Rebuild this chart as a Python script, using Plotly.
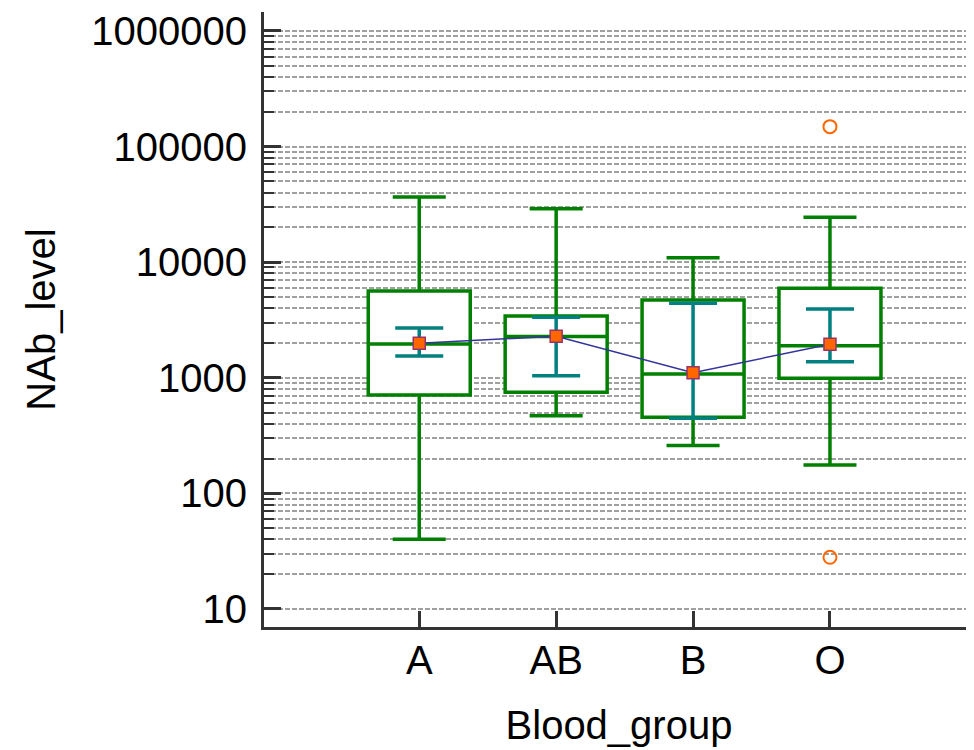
import plotly.graph_objects as go

# ---- data ----
groups = ["A", "AB", "B", "O"]
lower_whisker = [40, 470, 259, 176]
q1 = [710, 750, 455, 990]
median = [1960, 2270, 1078, 1895]
q3 = [5640, 3425, 4710, 5940]
upper_whisker = [36600, 29000, 10940, 24450]
ci_low = [1545, 1043, 447, 1378]
ci_high = [2700, 3340, 4415, 3940]
mean_values = [1990, 2290, 1107, 1950]
outlier_groups = ["O", "O"]
outlier_values = [148600, 28]

y_tick_vals = [10, 100, 1000, 10000, 100000, 1000000]
y_tick_text = ["10", "100", "1000", "10000", "100000", "1000000"]

FONT = "Liberation Sans, Arial, sans-serif"
GREEN = "#008000"
TEAL = "#008080"
ORANGE = "#ff6600"
AXIS = "#333333"
GRID = "#a0a0a0"

fig = go.Figure()

fig.add_trace(go.Box(
    x=groups, q1=q1, median=median, q3=q3,
    lowerfence=lower_whisker, upperfence=upper_whisker,
    boxpoints=False, width=0.745, whiskerwidth=0.52,
    line=dict(color=GREEN, width=3.5), fillcolor="white",
    showlegend=False, hoverinfo="skip",
))

err_plus = [h - m for h, m in zip(ci_high, median)]
err_minus = [m - l for m, l in zip(median, ci_low)]
fig.add_trace(go.Scatter(
    x=groups, y=median, mode="markers",
    marker=dict(size=1, opacity=0),
    error_y=dict(type="data", array=err_plus, arrayminus=err_minus,
                 color=TEAL, thickness=3.5, width=24),
    showlegend=False, hoverinfo="skip",
))

fig.add_trace(go.Scatter(
    x=groups, y=mean_values, mode="lines+markers",
    line=dict(color="#33339a", width=1.5),
    marker=dict(symbol="square", size=12, color=ORANGE,
                line=dict(color="#993366", width=1.5)),
    showlegend=False, hoverinfo="skip",
))

fig.add_trace(go.Scatter(
    x=outlier_groups, y=outlier_values, mode="markers",
    marker=dict(symbol="circle-open", size=13, color=ORANGE,
                line=dict(color=ORANGE, width=2)),
    showlegend=False, hoverinfo="skip",
))

minor_vals = [m * 10 ** k for k in range(1, 7) for m in range(2, 10)]

fig.update_layout(
    width=966, height=742,
    margin=dict(l=256, r=0, t=4, b=123),
    paper_bgcolor="white", plot_bgcolor="white",
    font=dict(family=FONT, size=40, color="black"),
    xaxis=dict(
        type="category", categoryorder="array", categoryarray=groups,
        range=[-1.134, 4.052], automargin=False,
        showline=True, linecolor=AXIS, linewidth=3,
        ticks="inside", ticklen=16, tickwidth=3, tickcolor=AXIS,
        showgrid=False, zeroline=False,
        ticklabelstandoff=-4,
        tickfont=dict(family=FONT, size=40, color="black"),
        title=dict(text="Blood_group", font=dict(family=FONT, size=40, color="black"), standoff=30),
    ),
    yaxis=dict(
        type="log", range=[0.844, 6.164], automargin=False,
        tickmode="array", tickvals=y_tick_vals, ticktext=y_tick_text,
        showline=True, linecolor=AXIS, linewidth=3,
        ticks="inside", ticklen=17, tickwidth=3, tickcolor=AXIS,
        showgrid=True, gridcolor=GRID, gridwidth=1.5, griddash="5px,2px",
        zeroline=False,
        ticklabelstandoff=6,
        tickfont=dict(family=FONT, size=40, color="black"),
        title=dict(text="NAb_level", font=dict(family=FONT, size=40, color="black"), standoff=24),
        minor=dict(tickmode="array", tickvals=minor_vals,
                   ticks="inside", ticklen=10, tickwidth=2, tickcolor=AXIS,
                   showgrid=True, gridcolor=GRID, gridwidth=1.5, griddash="5px,2px"),
    ),
)

fig.write_html("out.html")
